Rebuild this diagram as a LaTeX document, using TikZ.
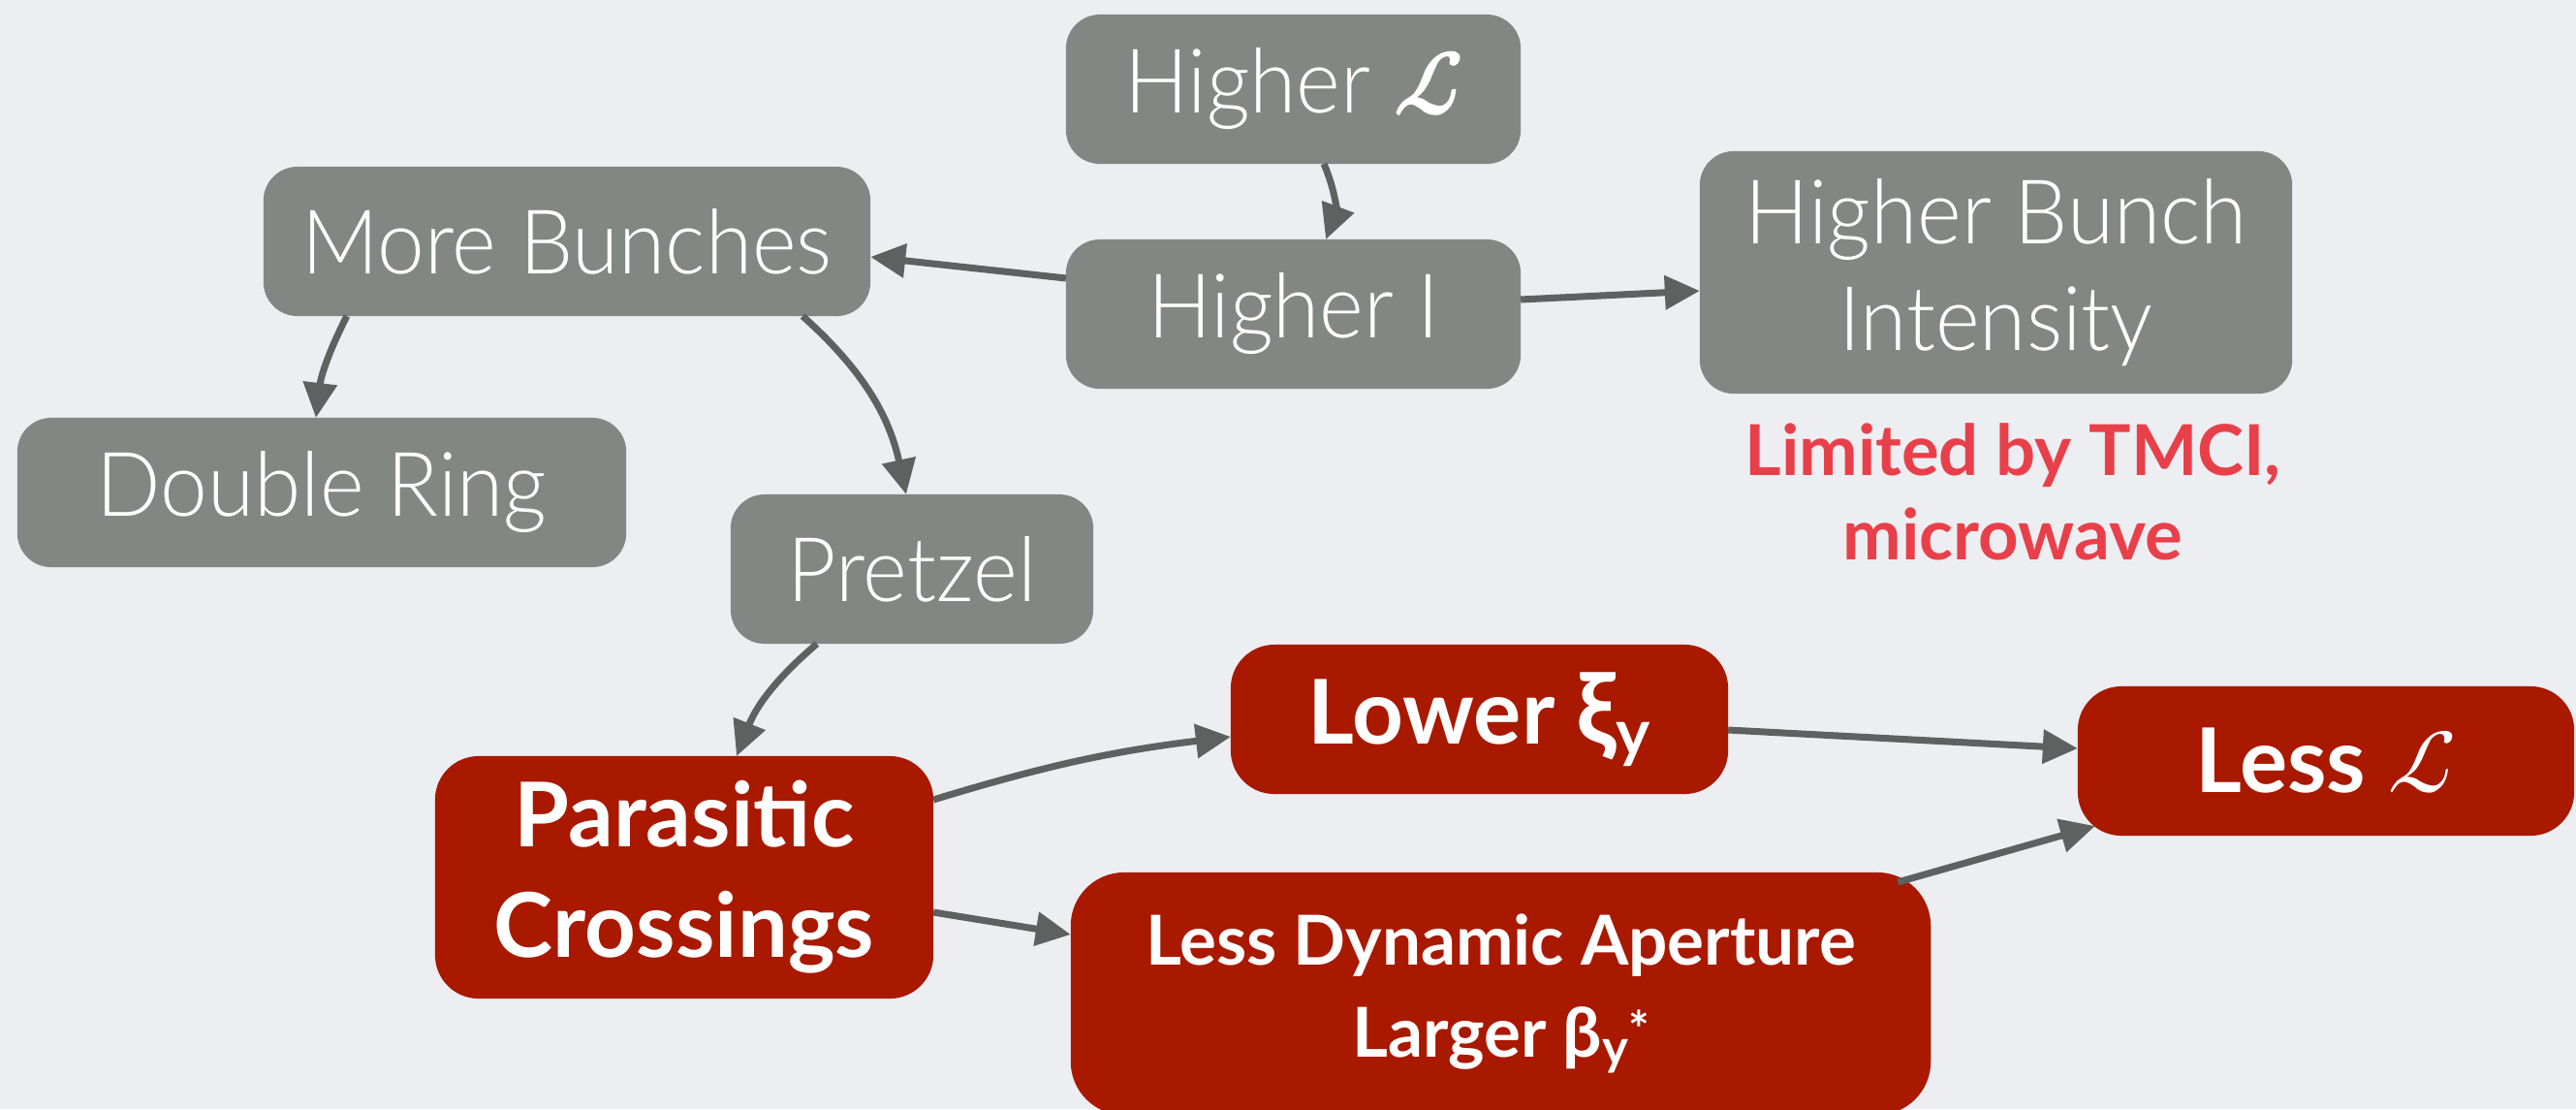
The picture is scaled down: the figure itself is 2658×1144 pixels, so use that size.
\documentclass[tikz,border=0pt]{standalone}
\usepackage{fontspec}
\IfFontExistsTF{Lato Light}{\newfontfamily\lightfont{Lato Light}[FakeStretch=0.95]}{\newfontfamily\lightfont{Lato}[FakeStretch=0.95]}
\newfontfamily\boldfont{Lato}
\newfontfamily\scrL{latinmodern-math.otf}
\newfontfamily\scrLb{latinmodern-math.otf}[FakeBold=2.5]
\usetikzlibrary{arrows.meta}
\definecolor{bgc}{HTML}{EDEEF2}
\definecolor{grayc}{HTML}{828784}
\definecolor{redc}{HTML}{A81900}
\definecolor{arrowc}{HTML}{5D615F}
\definecolor{notec}{HTML}{E8404A}
\begin{document}
\begin{tikzpicture}[x=0.01cm,y=-0.01cm,
  graybox/.style={fill=grayc, rounded corners=0.35cm, inner sep=0pt, outer sep=0pt,
    text=white, font=\lightfont\fontsize{26.2pt}{31.3pt}\selectfont, align=center},
  redbox/.style={fill=redc, rounded corners=0.45cm, inner sep=0pt, outer sep=0pt,
    text=white, font=\boldfont\bfseries\fontsize{26.2pt}{32.4pt}\selectfont, align=center},
  arr/.style={draw=arrowc, line width=2pt, -{Triangle[length=0.36cm,width=0.34cm]}},
  note/.style={text=notec, font=\boldfont\bfseries\fontsize{20.6pt}{24.8pt}\selectfont,
    align=center, inner sep=0pt}]
\useasboundingbox (0,0) rectangle (2658,1144);
\fill[bgc] (0,0) rectangle (2658,1144);

% gray nodes
\node[graybox, minimum width=4.69cm, minimum height=1.54cm] (HL) at (1334.5,92) {Higher {\scrLb ℒ}};
\node[graybox, minimum width=4.69cm, minimum height=1.54cm] (HI) at (1334.5,324) {Higher I};
\node[graybox, minimum width=6.26cm, minimum height=1.54cm] (MB) at (585,249) {More Bunches};
\node[graybox, minimum width=6.11cm, minimum height=2.50cm] (HBI) at (2059.5,281) {Higher Bunch\\Intensity};
\node[graybox, minimum width=6.28cm, minimum height=1.54cm] (DR) at (332,508) {Double Ring};
\node[graybox, minimum width=3.74cm, minimum height=1.54cm] (PZ) at (941,587) {Pretzel};

% note
\node[note] (TM) at (2077,507) {Limited by TMCI,\\microwave};

% red nodes
\node[redbox, minimum width=5.13cm, minimum height=1.54cm] (LX) at (1526.5,742)
  {Lower {\fontsize{29pt}{30pt}\selectfont ξ}\raisebox{-0.12cm}{\fontsize{19pt}{20pt}\selectfont y}};
\node[redbox, minimum width=5.12cm, minimum height=1.54cm] (LL) at (2400,785) {Less {\scrL ℒ}};
\node[redbox, minimum width=5.14cm, minimum height=2.50cm] (PC) at (706,905) {Parasitic\\Crossings};
\node[redbox, minimum width=8.87cm, minimum height=2.50cm, rounded corners=0.55cm,
  font=\boldfont\bfseries\fontsize{20.2pt}{27pt}\selectfont] (LDA) at (1548.5,1025)
  {Less Dynamic Aperture\\Larger β\raisebox{-0.08cm}{\fontsize{14.5pt}{15pt}\selectfont y}\raisebox{0.1cm}{\fontsize{14.5pt}{15pt}\selectfont *}};

% connectors
\draw[arr] ([xshift=0.315cm]HL.south) to[bend left=22] ([xshift=0.335cm]HI.north);
\draw[arr] ([yshift=0.37cm]HI.west) -- ([yshift=-0.16cm]MB.east);
\draw[arr] ([yshift=0.15cm]HI.east) -- ([yshift=-0.19cm]HBI.west);
\draw[arr] ([xshift=-2.27cm]MB.south) to[bend right=10] ([xshift=-0.06cm]DR.north);
\draw[arr] ([xshift=2.43cm]MB.south) to[bend left=18] ([xshift=-0.06cm]PZ.north);
\draw[arr] ([xshift=-0.98cm]PZ.south) to[bend right=14] ([xshift=0.54cm]PC.north);
\draw[arr] ([yshift=0.80cm]PC.east) to[bend left=5] ([yshift=-0.18cm]LX.west);
\draw[arr] ([yshift=-0.36cm]PC.east) -- ([yshift=0.61cm]LDA.west);
\draw[arr] ([yshift=-0.11cm]LX.east) -- ([yshift=0.13cm]LL.west);
\draw[arr] ([xshift=-0.34cm,yshift=-0.10cm]LDA.north east) -- ([xshift=0.18cm,yshift=0.10cm]LL.south west);
\end{tikzpicture}
\end{document}
